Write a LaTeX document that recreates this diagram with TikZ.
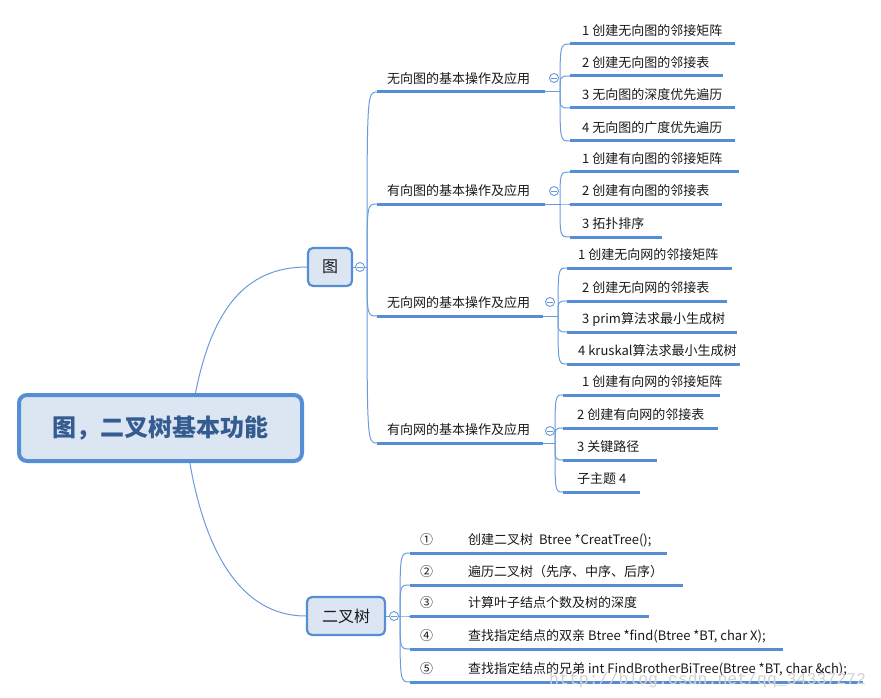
\documentclass[tikz,border=0pt]{standalone}
\usepackage{fontspec}
\setmainfont{Noto Sans CJK SC}
\newfontfamily\wmfont{Liberation Mono}
\definecolor{mmblue}{RGB}{85,142,213}
\definecolor{mmline}{RGB}{105,155,220}
\definecolor{mmfill}{RGB}{220,230,242}
\definecolor{roottext}{RGB}{52,92,145}
\definecolor{mmtext}{RGB}{25,25,25}
\newcommand\mmleaf[6]{\node[leafbox] (#1) at (#2,#3) {\hspace*{#5pt}\makebox[\dimexpr #4pt-#5pt\relax][l]{#6}};}
\tikzset{
  leafbox/.style={anchor=south west, inner xsep=0pt, inner ysep=5pt, text height=10pt, text depth=3pt,
    font=\fontsize{13pt}{15pt}\selectfont, text=mmtext},
  uline/.style={draw=mmblue, line width=3pt},
  conn/.style={draw=mmline, line width=1pt},
  rootbox/.style={draw=mmblue, line width=4pt, fill=mmfill, rounded corners=8pt,
    minimum width=283pt, minimum height=66pt, inner sep=0pt,
    font=\bfseries\fontsize{24pt}{28pt}\selectfont, text=roottext},
  topicbox/.style={draw=mmblue, line width=2.2pt, fill=mmfill, rounded corners=5pt,
    minimum width=44pt, minimum height=38pt, inner sep=0pt,
    font=\fontsize{16pt}{18pt}\selectfont, text=mmtext},
  collapse/.style={circle, draw=mmline, line width=0.9pt, fill=white, minimum size=9pt, inner sep=0pt,
    path picture={\draw[mmline, line width=0.9pt] ([xshift=-2.6pt]path picture bounding box.center) -- ([xshift=2.6pt]path picture bounding box.center);}}
}
\begin{document}
\begin{tikzpicture}[x=1pt,y=-1pt]
\useasboundingbox (0,0) rectangle (881,698);
% main topics
\node[rootbox] (root) at (160.5,428) {图，二叉树基本功能};
\node[topicbox] (tu) at (330,267) {图};
\node[topicbox, minimum width=78pt] (bt) at (346,616) {二叉树};
\draw[conn] (root.45) .. controls (212,310) and (245,267) .. (tu.west);
\draw[conn] (root.-50) .. controls (205,550) and (240,616) .. (bt.west);
% level 2 under 图
\coordinate (tuj) at (367,267);
\mmleaf{g1}{377}{92}{168}{10}{无向图的基本操作及应用}
\mmleaf{g2}{377}{204}{168}{10}{有向图的基本操作及应用}
\mmleaf{g3}{377}{316}{166}{10}{无向网的基本操作及应用}
\mmleaf{g4}{377}{443}{166}{10}{有向网的基本操作及应用}
\draw[conn] (tu.east) -- (tuj);
\foreach \g in {g1,g2,g3,g4}{
  \draw[conn] (tuj) .. controls (tuj |- \g.south west) .. (\g.south west);
  \draw[uline] (\g.south west) -- (\g.south east);
}
% junctions
\coordinate (j1) at (560,92);
\coordinate (j2) at (560,204);
\coordinate (j3) at (558,316);
\coordinate (j4) at (555,443);
\draw[conn] (g1.south east) -- (j1);
\draw[conn] (g2.south east) -- (j2);
\draw[conn] (g3.south east) -- (j3);
\draw[conn] (g4.south east) -- (j4);
% leaves branch 1
\mmleaf{a1}{570}{44}{165}{12}{1 创建无向图的邻接矩阵}
\mmleaf{a2}{570}{76}{153}{12}{2 创建无向图的邻接表}
\mmleaf{a3}{570}{108}{165}{12}{3 无向图的深度优先遍历}
\mmleaf{a4}{570}{141}{165}{12}{4 无向图的广度优先遍历}
% branch 2
\mmleaf{b1}{570}{172}{169}{12}{1 创建有向图的邻接矩阵}
\mmleaf{b2}{570}{204}{152}{12}{2 创建有向图的邻接表}
\mmleaf{b3}{570}{237}{92}{12}{3 拓扑排序}
% branch 3
\mmleaf{c1}{567}{268}{165}{11}{1 创建无向网的邻接矩阵}
\mmleaf{c2}{567}{301}{160}{15}{2 创建无向网的邻接表}
\mmleaf{c3}{567}{332}{170}{15}{3 prim算法求最小生成树}
\mmleaf{c4}{567}{364}{173}{11}{4 kruskal算法求最小生成树}
% branch 4
\mmleaf{d1}{563}{395}{157}{19}{1 创建有向网的邻接矩阵}
\mmleaf{d2}{563}{428}{155}{14}{2 创建有向网的邻接表}
\mmleaf{d3}{563}{460}{94}{14}{3 关键路径}
\mmleaf{d4}{563}{492}{77}{14}{子主题 4}
\foreach \j/\l in {j1/a1,j1/a2,j1/a3,j1/a4,j2/b1,j2/b2,j2/b3,j3/c1,j3/c2,j3/c3,j3/c4,j4/d1,j4/d2,j4/d3,j4/d4}{
  \draw[conn] (\j) .. controls (\j |- \l.south west) .. (\l.south west);
  \draw[uline] (\l.south west) -- (\l.south east);
}
% binary tree
\coordinate (btj) at (400,616);
\draw[conn] (bt.east) -- (btj);
\mmleaf{e1}{410}{553}{257}{10}{\makebox[48pt][l]{①}创建二叉树\ \ Btree *CreatTree();}
\mmleaf{e2}{410}{585}{273}{10}{\makebox[48pt][l]{②}遍历二叉树（先序、中序、后序）}
\mmleaf{e3}{410}{616}{239}{10}{\makebox[48pt][l]{③}计算叶子结点个数及树的深度}
\mmleaf{e4}{410}{649}{373}{10}{\makebox[48pt][l]{④}查找指定结点的双亲 Btree *find(Btree *BT, char X);}
\mmleaf{e5}{410}{682}{453}{10}{\makebox[48pt][l]{⑤}查找指定结点的兄弟 int FindBrotherBiTree(Btree *BT, char \&ch);}
\foreach \l in {e1,e2,e3,e4,e5}{
  \draw[conn] (btj) .. controls (btj |- \l.south west) .. (\l.south west);
  \draw[uline] (\l.south west) -- (\l.south east);
}
% collapse buttons
\node[collapse] (k0) at (360,267) {};
\node[collapse] (k5) at (394,616) {};
\node[collapse] (k1) at (554,78) {};
\node[collapse] (k2) at (554,191) {};
\node[collapse] (k3) at (550,302) {};
\node[collapse] (k4) at (550,431) {};
% watermark
\node[anchor=base west, inner sep=0pt, font=\wmfont\fontsize{16.5pt}{18pt}\selectfont, text=gray!35] (wm) at (549,684) {http://blog.csdn.net/qq\_34337272};
\end{tikzpicture}
\end{document}
